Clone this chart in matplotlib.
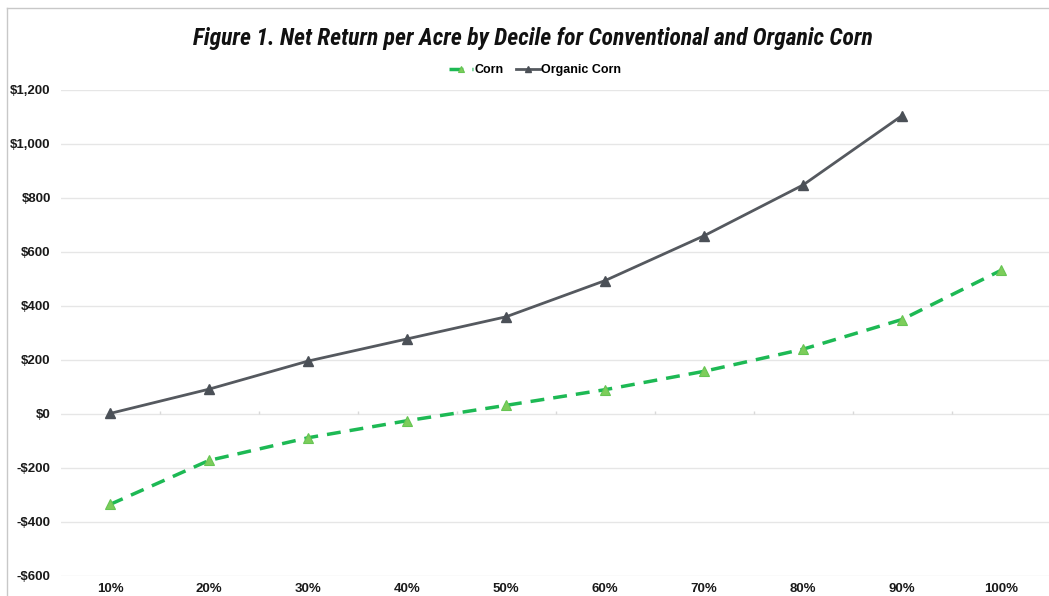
import matplotlib
matplotlib.use("Agg")
import matplotlib.pyplot as plt
from matplotlib import font_manager
from matplotlib.lines import Line2D

# data
deciles = ['10%', '20%', '30%', '40%', '50%', '60%', '70%', '80%', '90%', '100%']
corn = [-335, -172, -88, -25, 32, 90, 158, 240, 350, 532]
organic_corn = [2, 92, 196, 278, 360, 494, 660, 848, 1105]
y_ticks = [-600, -400, -200, 0, 200, 400, 600, 800, 1000, 1200]


def money(v):
    return f"-${abs(v):,}" if v < 0 else f"${v:,}"


available = {f.name for f in font_manager.fontManager.ttflist}
title_font = 'DejaVu Sans'
for name in ['Liberation Sans Narrow', 'DejaVu Sans Condensed', 'Roboto Condensed', 'Open Sans Condensed']:
    if name in available:
        title_font = name
        break

plt.rcParams['font.family'] = ['Liberation Sans', 'DejaVu Sans']

fig = plt.figure(figsize=(10.49, 5.96), dpi=100)
ax = fig.add_axes([60.5 / 1049, 1 - 576 / 596, 990 / 1049, 486 / 596])

x = list(range(len(deciles)))
grid_c = '#e6e6e6'

for v in y_ticks:
    ax.axhline(v, color=grid_c, lw=1, zorder=1)
# small category ticks on the zero line
ax.vlines([i + 0.5 for i in x[:-1]], 0, 12, color='#d9d9d9', lw=1, zorder=1)

ax.plot(x, corn, color='#1db954', lw=2.5, ls=(0, (4, 2.6)), marker='^',
        ms=7.5, mfc='#7dcd5b', mec='#66c553', mew=0.8, label='Corn', zorder=3)
ax.plot(x[:len(organic_corn)], organic_corn, color='#55595f', lw=2, marker='^',
        ms=7.5, mfc='#4b5057', mec='#4b5057', label='Organic Corn', zorder=3)

ax.set_xlim(-0.5, 9.5)
ax.set_ylim(-600, 1200)
ax.set_xticks(x)
ax.set_xticklabels(deciles)
ax.set_yticks(y_ticks)
ax.set_yticklabels([money(v) for v in y_ticks])
for s in ax.spines.values():
    s.set_visible(False)
ax.tick_params(axis='both', length=0, labelsize=9.5, colors='#1a1a1a')
ax.tick_params(axis='y', pad=7)
ax.tick_params(axis='x', pad=5)
for lbl in ax.get_xticklabels() + ax.get_yticklabels():
    lbl.set_fontweight('bold')

fig.text(533 / 1049, 1 - 38 / 596,
         'Figure 1. Net Return per Acre by Decile for Conventional and Organic Corn',
         ha='center', va='center', fontsize=17, fontweight='bold', fontstyle='italic',
         family=[title_font, 'DejaVu Sans'], color='#111111')

fig.legend(loc='center', bbox_to_anchor=(535 / 1049, 1 - 70 / 596), ncol=2, frameon=False,
           prop={'weight': 'bold', 'size': 9}, handlelength=1.9, handletextpad=0.1,
           columnspacing=1.0, markerscale=0.6)

# thin frame round the chart
fig.add_artist(Line2D([7 / 1049, 1], [1 - 8 / 596, 1 - 8 / 596], color='#c8c8c8', lw=1))
fig.add_artist(Line2D([7 / 1049, 7 / 1049], [0, 1 - 8 / 596], color='#c8c8c8', lw=1))

fig.savefig('out.png', dpi=100)
